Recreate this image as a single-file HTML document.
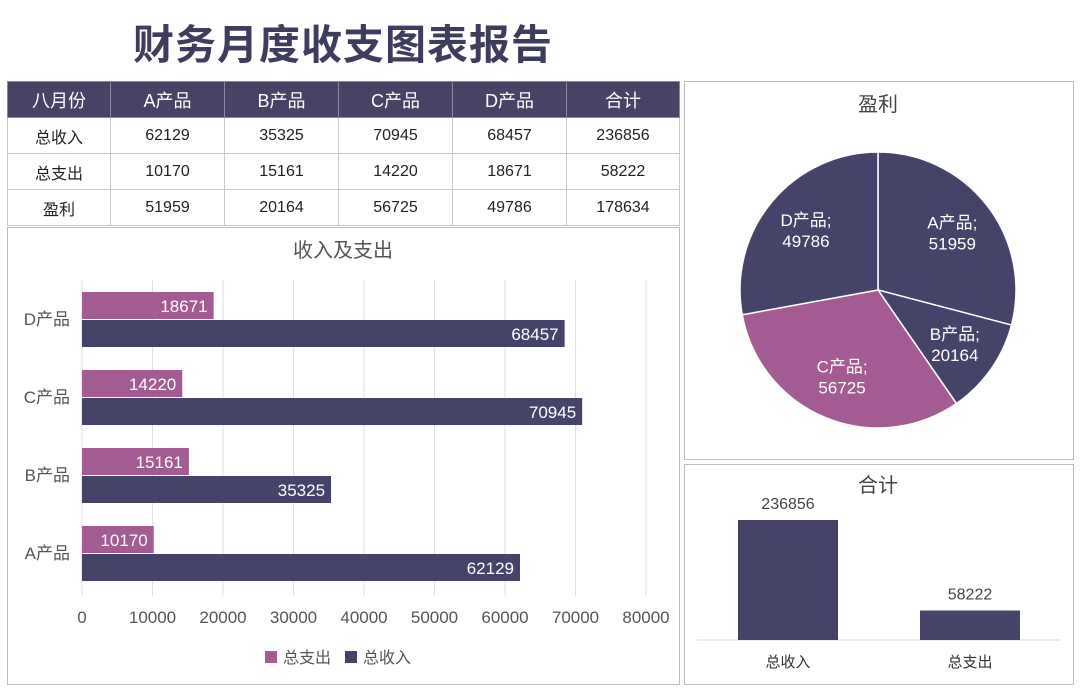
<!DOCTYPE html>
<html><head><meta charset="utf-8"><style>
body{margin:0;width:1080px;height:693px;background:#fff;font-family:"Liberation Sans","Noto Sans CJK SC",sans-serif;position:relative;overflow:hidden}
#title{position:absolute;left:0;width:686px;top:11px;text-align:center;font-size:41px;font-weight:bold;color:#3f3d5e;letter-spacing:1px}
table{position:absolute;left:7px;top:81px;border-collapse:collapse;width:672px;table-layout:fixed}
td{border:1px solid #c8c8c8;text-align:center;font-size:16px;color:#222;height:35px;padding:0}
tr.h td{background:#464366;color:#fff;font-size:18px;border-color:#8a88a0}
.box{position:absolute;border:1px solid #bdbdbd}
svg{position:absolute;left:0;top:0}
</style></head><body>
<div id="title">财务月度收支图表报告</div>
<table>
<colgroup><col style="width:103px"><col style="width:114px"><col style="width:114px"><col style="width:114px"><col style="width:114px"><col style="width:113px"></colgroup>
<tr class="h"><td>八月份</td><td>A产品</td><td>B产品</td><td>C产品</td><td>D产品</td><td>合计</td></tr>
<tr><td>总收入</td><td>62129</td><td>35325</td><td>70945</td><td>68457</td><td>236856</td></tr>
<tr><td>总支出</td><td>10170</td><td>15161</td><td>14220</td><td>18671</td><td>58222</td></tr>
<tr><td>盈利</td><td>51959</td><td>20164</td><td>56725</td><td>49786</td><td>178634</td></tr>
</table>
<div class="box" style="left:7px;top:227px;width:671px;height:456px"></div>
<div class="box" style="left:684px;top:81px;width:388px;height:377px"></div>
<div class="box" style="left:684px;top:464px;width:388px;height:219px"></div>
<svg id="s" width="1080" height="693" font-family="Liberation Sans, Noto Sans CJK SC, sans-serif"></svg>
<script>
const cats=['A产品','B产品','C产品','D产品'];
const income=[62129,35325,70945,68457];
const expense=[10170,15161,14220,18671];
const ticks=[0,10000,20000,30000,40000,50000,60000,70000,80000];
const profit=[51959,20164,56725,49786];
const totalCats=['总收入','总支出'];
const totals=[236856,58222];
const DARK='#46436a',PINK='#a45b93';
const s=document.getElementById('s');
function el(t,a,txt){const e=document.createElementNS('http://www.w3.org/2000/svg',t);for(const k in a)e.setAttribute(k,a[k]);if(txt!=null)e.textContent=txt;s.appendChild(e);return e;}
const x=v=>82+v*564/80000;
const catY=i=>553-i*78;
let e=el('text',{x:343,y:257,'text-anchor':'middle','font-size':20,fill:'#555'},'收入及支出');


ticks.forEach(t=>{
 let g=el('line',{x1:x(t),x2:x(t),y1:280,y2:596,stroke:'#e0e0e0'});
 
 
 let l=el('text',{x:x(t),y:623,'text-anchor':'middle','font-size':17,fill:'#555'},t);
 
 
});
cats.forEach((c,i)=>{
 const y=catY(i);
 let p=el('rect',{x:x(0),y:y-27,width:x(expense[i])-x(0),height:27,fill:PINK});
 
 
 let pl=el('text',{x:x(expense[i])-6,y:y-7,'text-anchor':'end','font-size':17,fill:'#fff'},expense[i]);
 
 
 let d=el('rect',{x:x(0),y:y+1,width:x(income[i])-x(0),height:27,fill:DARK});
 
 
 let dl=el('text',{x:x(income[i])-6,y:y+21,'text-anchor':'end','font-size':17,fill:'#fff'},income[i]);
 
 
 let cl=el('text',{x:70,y:y+6,'text-anchor':'end','font-size':17,fill:'#555'},c);
 
 
});
let lg1=el('rect',{x:265,y:651,width:12,height:12,fill:PINK});


let lt1=el('text',{x:283,y:663,'font-size':16,fill:'#555'},'总支出');


let lg2=el('rect',{x:345,y:651,width:12,height:12,fill:DARK});


let lt2=el('text',{x:363,y:663,'font-size':16,fill:'#555'},'总收入');


let pt=el('text',{x:878,y:111,'text-anchor':'middle','font-size':20,fill:'#444'},'盈利');


const cx=878,cy=290,r=138;
const sum=profit.reduce((a,b)=>a+b,0);
let a0=-Math.PI/2;
profit.forEach((v,i)=>{
 const a1=a0+v/sum*2*Math.PI;
 const large=(a1-a0)>Math.PI?1:0;
 const d=`M${cx},${cy}L${cx+r*Math.cos(a0)},${cy+r*Math.sin(a0)}A${r},${r} 0 ${large} 1 ${cx+r*Math.cos(a1)},${cy+r*Math.sin(a1)}Z`;
 let sl=el('path',{d,fill:i==2?PINK:DARK,stroke:'#fff','stroke-width':1.5});
 
 
 const am=(a0+a1)/2, lx=cx+r*0.68*Math.cos(am), ly=cy+r*0.68*Math.sin(am);
 let t1=el('text',{x:lx,y:ly-4,'text-anchor':'middle','font-size':17,fill:'#fff'},cats[i]+';');
 
 
 let t2=el('text',{x:lx,y:ly+17,'text-anchor':'middle','font-size':17,fill:'#fff'},v);
 
 
 a0=a1;
});
let tt=el('text',{x:878,y:492,'text-anchor':'middle','font-size':20,fill:'#444'},'合计');


const base=640,yk=120/236856;
let ax=el('line',{x1:697,x2:1061,y1:base,y2:base,stroke:'#d9d9d9'});


totals.forEach((v,i)=>{
 const bx=738+i*182,h=v*yk;
 let b=el('rect',{x:bx,y:base-h,width:100,height:h,fill:DARK});
 
 
 let vl=el('text',{x:bx+50,y:base-h-11,'text-anchor':'middle','font-size':16,fill:'#444'},v);
 
 
 let cl=el('text',{x:bx+50,y:667,'text-anchor':'middle','font-size':15,fill:'#333'},totalCats[i]);
 
 
});
</script>
</body></html>
